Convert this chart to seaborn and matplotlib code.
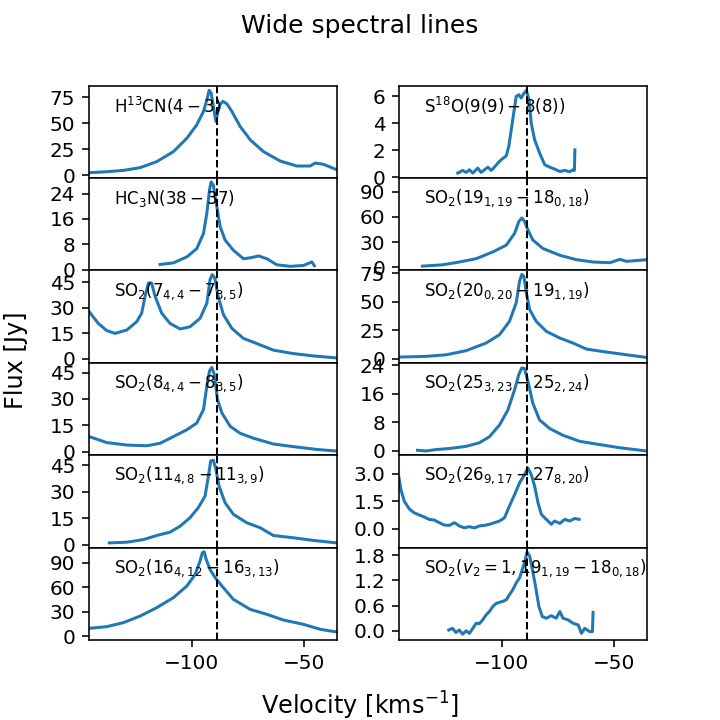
import matplotlib
matplotlib.use("Agg")
import matplotlib.pyplot as plt
import seaborn as sns
import pandas as pd

V_SYS = -89.0
XLIM = (-145.6, -35.3)

# --- left column ---
h13cn_v = [-145.6, -137.8, -130.4, -123.0, -115.6, -108.2, -102.2, -97.8, -94.8, -93.3, -92.3, -91.4,
           -90.4, -89.3, -88.5, -87.4, -86.2, -84.4, -82.2, -78.5, -74.0, -68.1, -60.7, -53.3, -47.3,
           -45.1, -41.4, -35.2]
h13cn_f = [2.3, 3.2, 4.5, 7.1, 12.9, 22.5, 35.4, 48.3, 61.2, 72.4, 81.4, 78.9,
           66.0, 51.5, 59.5, 67.6, 70.8, 68.5, 61.2, 46.7, 33.8, 22.5, 13.5, 8.7, 8.7,
           11.6, 10.3, 4.8]

hc3n_v = [-114.1, -108.2, -102.2, -97.8, -94.8, -93.3, -92.1, -91.4, -90.4, -88.9, -87.4, -85.2,
          -81.5, -77.0, -74.0, -70.3, -66.6, -62.2, -56.2, -50.3, -46.6, -45.5]
hc3n_f = [1.6, 2.1, 4.0, 6.6, 11.4, 17.9, 25.3, 27.7, 26.6, 20.0, 13.6, 9.3,
          6.1, 3.4, 3.7, 4.3, 3.4, 1.5, 1.0, 1.3, 2.4, 1.2]

so2_7_v = [-145.6, -141.6, -137.8, -134.1, -128.9, -124.5, -122.3, -120.8, -119.3, -117.9, -116.3,
           -113.4, -109.7, -105.2, -100.8, -96.3, -93.3, -91.9, -90.9, -89.8, -88.3, -85.9, -82.2,
           -77.0, -71.1, -63.7, -54.8, -45.9, -35.4]
so2_7_f = [27.6, 20.8, 16.5, 14.9, 16.9, 21.8, 26.8, 36.7, 44.6, 44.6, 36.7,
           26.8, 20.8, 17.5, 18.8, 23.8, 32.7, 46.6, 49.6, 47.6, 36.7, 25.8, 17.9,
           11.9, 8.9, 5.0, 3.0, 1.6, 0.4]

so2_8_v = [-145.6, -137.8, -128.9, -120.0, -114.1, -108.2, -102.2, -97.8, -94.8, -93.3, -92.1,
           -91.1, -90.0, -88.6, -86.6, -82.9, -78.5, -72.6, -63.7, -54.8, -44.3, -35.4]
so2_8_f = [8.6, 5.2, 3.8, 3.4, 4.8, 8.6, 12.5, 16.3, 24.0, 37.4, 46.0,
           47.9, 44.0, 29.7, 22.0, 14.4, 10.5, 7.7, 4.4, 2.9, 1.3, 0.4]

so2_11_v = [-136.7, -128.9, -121.5, -115.6, -109.7, -105.2, -100.8, -97.1, -94.1, -92.6, -91.6,
            -90.4, -89.3, -87.9, -85.2, -81.5, -75.5, -69.6, -63.7, -54.8, -45.9, -35.4]
so2_11_f = [0.9, 1.3, 2.8, 5.1, 7.0, 10.4, 15.2, 20.9, 27.5, 38.9, 47.4,
            47.8, 42.7, 33.2, 23.7, 17.1, 12.3, 9.5, 5.1, 3.8, 2.3, 0.9]

so2_16_v = [-145.6, -137.8, -130.4, -123.0, -115.6, -108.2, -102.2, -98.5, -96.6, -95.3, -94.5,
            -93.6, -91.9, -89.6, -86.6, -81.5, -74.0, -66.6, -59.2, -50.3, -42.8, -35.4]
so2_16_f = [9.4, 11.5, 16.4, 24.5, 34.8, 47.1, 61.4, 75.7, 90.0, 102.3, 103.5,
            94.1, 81.8, 71.6, 61.4, 45.0, 32.7, 26.6, 19.6, 14.3, 8.2, 4.9]

# --- right column ---
s18o_v = [-119.6, -117.4, -115.9, -114.4, -112.9, -110.7, -109.2, -107.7, -106.2, -104.7, -103.3,
          -101.8, -100.3, -98.0, -96.9, -95.8, -94.6, -93.6, -92.4, -91.4, -90.3, -89.1, -87.9,
          -86.9, -85.4, -83.2, -80.9, -78.7, -76.5, -74.2, -72.0, -69.8, -68.3, -67.7, -67.5]
s18o_f = [0.30, 0.50, 0.35, 0.55, 0.30, 0.67, 0.35, 0.55, 0.74, 0.50, 0.74,
          1.04, 1.29, 1.59, 2.28, 3.52, 4.88, 6.00, 6.13, 5.88, 6.20, 6.45, 5.75,
          4.00, 2.78, 1.79, 0.92, 0.74, 0.60, 0.42, 0.50, 0.40, 0.55, 0.50, 2.03]

so2_19_v = [-135.3, -126.3, -118.9, -111.4, -104.0, -98.0, -94.3, -92.4, -91.1, -89.9, -88.4,
            -86.2, -81.7, -74.2, -66.8, -59.4, -51.9, -47.5, -44.5, -35.6]
so2_19_f = [1.2, 2.8, 6.1, 10.1, 18.2, 26.3, 40.5, 54.7, 58.8, 54.7, 44.6,
            32.4, 22.3, 14.2, 8.9, 6.1, 5.3, 9.3, 6.9, 8.9]

so2_20_v = [-145.7, -133.8, -124.8, -115.9, -107.0, -101.0, -96.6, -93.6, -92.1, -91.1, -90.2,
            -89.1, -87.6, -84.7, -80.2, -74.2, -68.3, -62.3, -53.4, -44.5, -35.6]
so2_20_f = [1.5, 2.1, 3.5, 7.1, 13.8, 21.2, 32.9, 49.1, 68.2, 74.1, 72.6,
            58.0, 43.2, 32.9, 24.1, 18.2, 13.8, 8.5, 5.9, 3.5, 1.2]

so2_25_v = [-137.5, -133.8, -129.3, -123.3, -115.9, -110.0, -105.5, -101.0, -97.3, -94.3, -92.4,
            -91.1, -89.9, -88.4, -86.2, -83.2, -78.7, -72.8, -65.3, -56.4, -47.5, -35.6]
so2_25_f = [0.2, 0.0, 0.4, 0.7, 1.3, 2.3, 4.0, 7.3, 11.5, 17.2, 21.5,
            23.3, 23.1, 19.6, 13.4, 8.7, 6.3, 4.4, 2.7, 1.8, 0.9, 0.0]

so2_26_v = [-145.7, -144.9, -143.4, -141.2, -139.0, -136.7, -134.5, -132.3, -130.0, -127.8, -125.6,
            -123.3, -121.1, -118.9, -116.7, -114.4, -112.2, -110.0, -107.7, -105.5, -103.3, -101.0,
            -98.8, -96.6, -94.3, -92.1, -89.9, -88.4, -86.9, -85.4, -83.9, -82.4, -80.2, -78.0,
            -76.5, -74.2, -72.0, -69.8, -67.5, -65.6]
so2_26_f = [2.78, 2.15, 1.51, 1.09, 0.87, 0.75, 0.64, 0.51, 0.47, 0.33, 0.20,
            0.18, 0.33, 0.15, 0.05, 0.11, 0.04, 0.15, 0.18, 0.24, 0.33, 0.42,
            0.60, 1.24, 1.87, 2.51, 2.96, 3.33, 2.96, 2.33, 1.42, 0.78, 0.51, 0.24,
            0.42, 0.29, 0.51, 0.42, 0.56, 0.51]

so2_v2_v = [-123.6, -121.9, -120.4, -118.9, -117.4, -115.9, -114.4, -112.9, -111.4, -110.0, -108.5,
            -107.0, -105.5, -104.0, -102.6, -101.0, -99.6, -98.0, -96.6, -95.1, -93.6, -92.1,
            -90.9, -89.9, -88.8, -87.6, -86.4, -85.0, -83.5, -82.0, -80.2, -78.0, -75.8, -74.2,
            -72.8, -70.5, -68.3, -66.0, -64.6, -63.1, -60.9, -59.7, -59.4]
so2_v2_f = [0.02, 0.06, -0.04, 0.02, -0.08, 0.00, -0.06, 0.06, 0.18, 0.17, 0.26,
            0.38, 0.46, 0.58, 0.65, 0.68, 0.70, 0.74, 0.86, 0.98, 1.14, 1.26,
            1.46, 1.62, 1.88, 1.78, 1.46, 1.06, 0.58, 0.34, 0.30, 0.36, 0.30, 0.46,
            0.30, 0.26, 0.18, 0.14, -0.06, 0.06, -0.02, -0.02, 0.44]

labels = [
    r"H$^{13}$CN$(4-3)$",
    r"HC$_3$N$(38-37)$",
    r"SO$_2$$(7_{4,4}-7_{3,5})$",
    r"SO$_2$$(8_{4,4}-8_{3,5})$",
    r"SO$_2$$(11_{4,8}-11_{3,9})$",
    r"SO$_2$$(16_{4,12}-16_{3,13})$",
    r"S$^{18}$O$(9(9)-8(8))$",
    r"SO$_2$$(19_{1,19}-18_{0,18})$",
    r"SO$_2$$(20_{0,20}-19_{1,19})$",
    r"SO$_2$$(25_{3,23}-25_{2,24})$",
    r"SO$_2$$(26_{9,17}-27_{8,20})$",
    r"SO$_2$$(v_2=1, 19_{1,19}-18_{0,18})$",
]
velocities = [h13cn_v, hc3n_v, so2_7_v, so2_8_v, so2_11_v, so2_16_v,
              s18o_v, so2_19_v, so2_20_v, so2_25_v, so2_26_v, so2_v2_v]
fluxes = [h13cn_f, hc3n_f, so2_7_f, so2_8_f, so2_11_f, so2_16_f,
          s18o_f, so2_19_f, so2_20_f, so2_25_f, so2_26_f, so2_v2_f]
yticks = [[0, 25, 50, 75], [0, 8, 16, 24], [0, 15, 30, 45], [0, 15, 30, 45],
          [0, 15, 30, 45], [0, 30, 60, 90], [0, 2, 4, 6], [0, 30, 60, 90],
          [0, 25, 50, 75], [0, 8, 16, 24], [0.0, 1.5, 3.0], [0.0, 0.6, 1.2, 1.8]]
ylims = [(-2.9, 85.9), (-0.3, 28.9), (-2.5, 52.0), (-2.0, 50.5), (-1.8, 50.6), (-5.0, 108.5),
         (-0.07, 6.8), (-4.0, 106.5), (-3.6, 77.6), (-1.2, 24.7), (-1.04, 4.02), (-0.22, 1.98)]

fig, axes = plt.subplots(6, 2, sharex=True, figsize=(5, 5))
fig.subplots_adjust(left=0.124, right=0.899, top=0.881, bottom=0.111, hspace=0, wspace=0.25)

for i in range(12):
    ax = axes[i % 6, i // 6]
    df = pd.DataFrame({"v": velocities[i], "f": fluxes[i]})
    sns.lineplot(data=df, x="v", y="f", ax=ax, color="#1f77b4", linewidth=1.5, sort=False)
    ax.axvline(V_SYS, color="black", linestyle="--", linewidth=1)
    ax.set_xlim(*XLIM)
    ax.set_ylim(*ylims[i])
    ax.set_yticks(yticks[i])
    ax.set_xlabel("")
    ax.set_ylabel("")
    ax.text(0.1, 0.78, labels[i], transform=ax.transAxes, va="center", fontsize="small")

axes[-1, 0].set_xticks([-100, -50])
fig.suptitle("Wide spectral lines", fontsize=12.5)
fig.supxlabel(r"Velocity [kms$^{-1}$]", fontsize=12, y=-0.003)
fig.supylabel("Flux [Jy]", fontsize=12, x=0.005)

fig.savefig("out.png", dpi=144)
plt.close()
